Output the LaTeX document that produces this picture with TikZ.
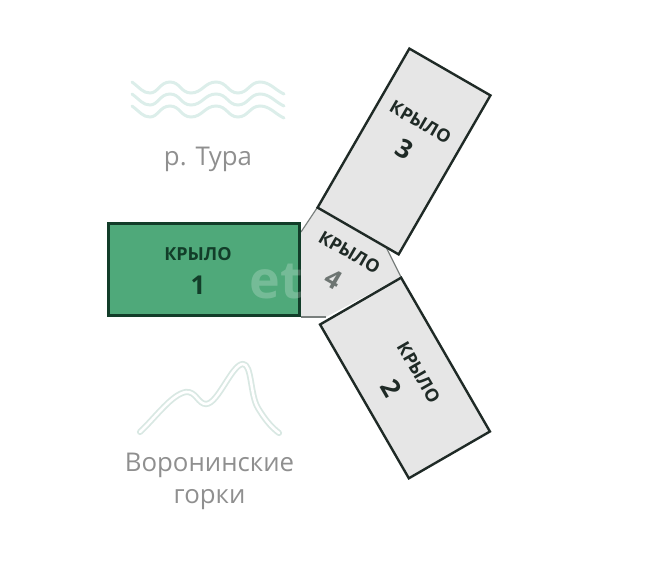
\documentclass[tikz,border=0pt]{standalone}
\usepackage{fontspec}
\setmainfont{Open Sans}
\usepackage{xcolor}
\usetikzlibrary{positioning}

\definecolor{wingdark}{HTML}{1F2A26}
\definecolor{winggrey}{HTML}{E6E6E6}
\definecolor{winggreen}{HTML}{4FA97A}
\definecolor{greendark}{HTML}{123D29}
\definecolor{rivercol}{HTML}{DCEEEA}
\definecolor{hillcol}{HTML}{D9E8E3}
\definecolor{placecol}{HTML}{8F8F8F}

\newcommand{\wingtext}[1]{{\fontsize{9}{11}\selectfont\bfseries КРЫЛО}\\[5pt]{\fontsize{13}{15}\selectfont\bfseries #1}}

\tikzset{
    wing/.style={draw=wingdark, line width=1.2pt, fill=winggrey, rectangle, inner sep=0pt},
    winglabel/.style={align=center, text=wingdark, inner sep=0pt},
    place/.style={align=center, text=placecol, font=\fontsize{12.9}{16}\selectfont, inner sep=0pt},
    river/.style={draw=rivercol, line width=1.5pt, line cap=round},
    hill/.style={draw=hillcol, line width=0.9pt, line cap=round, line join=round}
}

\begin{document}
\begin{tikzpicture}[x=0.5pt, y=-0.5pt]
    \useasboundingbox (0,0) rectangle (649,566);

    % Small wing in the middle
    \coordinate (hubA) at (301,232);
    \coordinate (hubB) at (317,208);
    \coordinate (hubC) at (387,249);
    \coordinate (hubD) at (401,277);
    \coordinate (hubE) at (326,317);
    \coordinate (hubF) at (301,317);
    \fill[winggrey] (hubA) -- (hubB) -- (hubC) -- (hubD) -- (hubE) -- (hubF) -- cycle;
    \draw[draw=wingdark!60, line width=0.6pt] (hubA) -- (hubB);
    \draw[draw=wingdark!60, line width=0.6pt] (hubC) -- (hubD);
    \draw[draw=wingdark!60, line width=0.6pt] (hubF) -- (hubE);

    % The three big wings
    \node (wingOne) [wing, fill=winggreen, draw=greendark, line width=1.5pt, minimum width=97pt-1.5pt, minimum height=47.5pt-1.5pt] at (204,269.5) {};
    \node (wingTwo) [wing, rotate=-60, minimum width=90pt-1.2pt, minimum height=48pt-1.2pt] at (405,378) {};
    \node (wingThree) [wing, rotate=-30, minimum width=48pt-1.2pt, minimum height=93pt-1.2pt] at (404,151.5) {};

    % Watermark
    \node (mark) [text=white, opacity=0.22, font=\fontsize{26}{30}\selectfont\bfseries, inner sep=0pt] at (276,282) {et};

    % Labels of the wings
    \node (labelOne) [winglabel, text=greendark] at (198,271) {\wingtext{1}};
    \node (labelTwo) [winglabel, rotate=-60] at (404,381) {\wingtext{2}};
    \node (labelThree) [winglabel, rotate=-30] at (412,137) {\wingtext{3}};
    \node (labelFour) [winglabel, rotate=-30] at (341,267) {{\fontsize{9}{11}\selectfont\bfseries КРЫЛО}\\[5pt]{\fontsize{13}{15}\selectfont\bfseries\color{wingdark!65} 4}};

    % River
    \foreach \shift in {0,12,24} {
        \draw[river, yshift=-0.5*\shift] (132,82) .. controls (140,88) and (143,93) .. (150,93)
            .. controls (158,93) and (160,82) .. (170,82)
            .. controls (180,82) and (181,93) .. (191,93)
            .. controls (202,93) and (205,82) .. (216,82)
            .. controls (227,82) and (228,93) .. (238,93)
            .. controls (248,93) and (250,82) .. (260,82)
            .. controls (270,82) and (275,90) .. (284,94);
    }
    \node (riverName) [place] at (208,159.5) {р. Тура};

    % Hills
    \draw[hill, double=white, double distance=1.3pt] (140,432) .. controls (155,418) and (172,394) .. (186,392)
        .. controls (196,391) and (198,404) .. (206,404)
        .. controls (218,404) and (232,364) .. (243,364)
        .. controls (252,364) and (250,395) .. (258,408)
        .. controls (264,418) and (270,426) .. (279,433);
    \node (hillName) [place] at (209.5,481.5) {Воронинские\\горки};
\end{tikzpicture}
\end{document}
